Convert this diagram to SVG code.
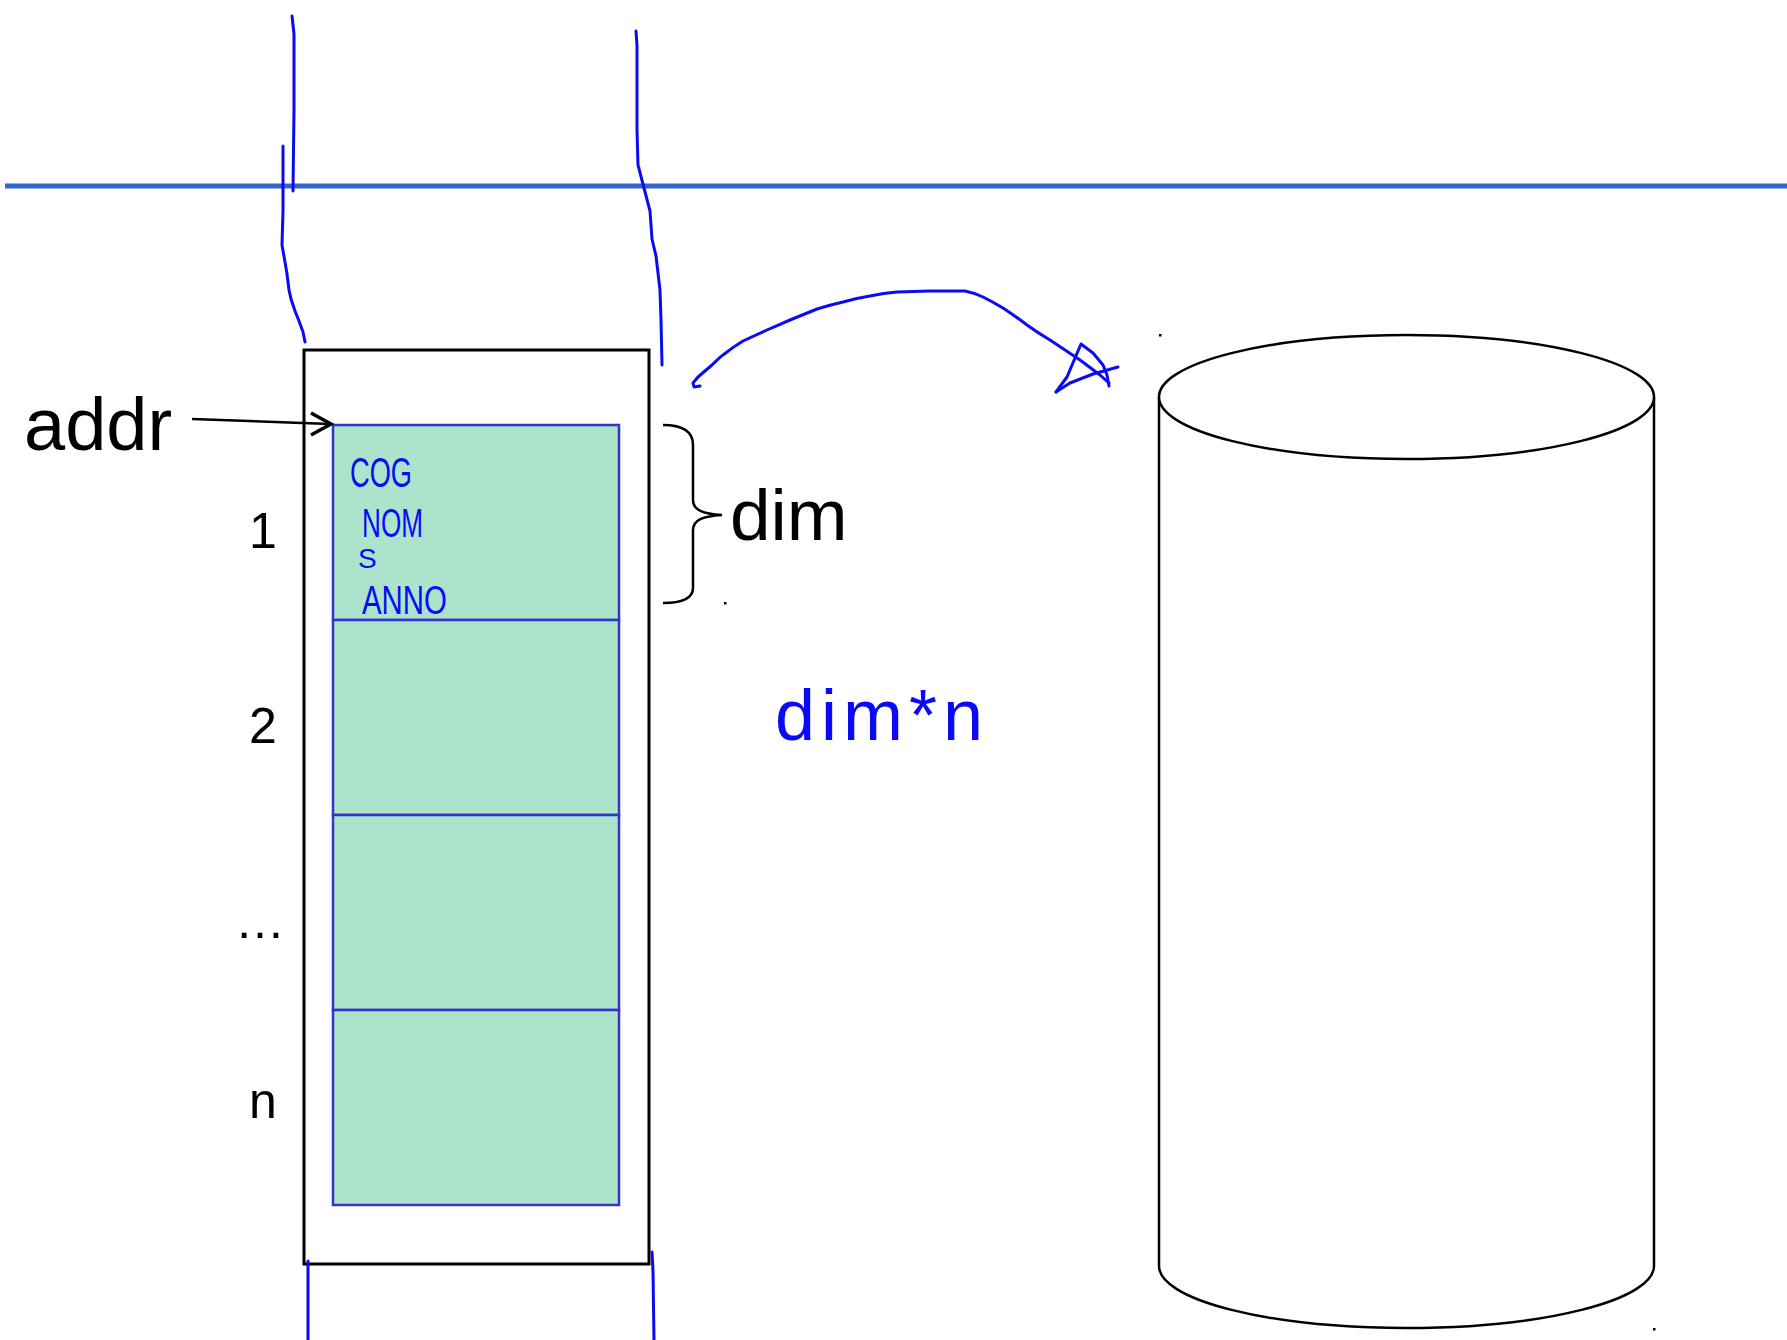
<svg xmlns="http://www.w3.org/2000/svg" width="1787" height="1340" viewBox="0 0 1787 1340">
<style>
.lbl{font-family:"Liberation Sans",Arial,sans-serif;fill:#000}
.ink{fill:none;stroke:#0a0af5;stroke-width:3;stroke-linecap:round;stroke-linejoin:round}
.hw{font-family:"Liberation Sans",Arial,sans-serif;fill:#0a0af5}
.cell{fill:#abe3cb;stroke:#3434cc;stroke-width:2.5}
.cyl{fill:#fff;stroke:#000;stroke-width:2.5}
</style>
<rect width="1787" height="1340" fill="#fff"/>

<g id="separator">
<line x1="5" y1="186" x2="1787" y2="186" stroke="#3366cc" stroke-width="5"/>
</g>

<g id="memory-block">
<rect x="304" y="350" width="345" height="914" fill="#fff" stroke="#000" stroke-width="3"/>
<g id="cell-1"><rect class="cell" x="333" y="425" width="286" height="195"/></g>
<g id="cell-2"><rect class="cell" x="333" y="620" width="286" height="195"/></g>
<g id="cell-3"><rect class="cell" x="333" y="815" width="286" height="195"/></g>
<g id="cell-n"><rect class="cell" x="333" y="1010" width="286" height="195"/></g>
</g>

<g id="index-labels">
<text class="lbl" x="263" y="548" font-size="50" text-anchor="middle">1</text>
<text class="lbl" x="263" y="743" font-size="50" text-anchor="middle">2</text>
<text class="lbl" x="260" y="938" font-size="50" text-anchor="middle">…</text>
<text class="lbl" x="263" y="1118" font-size="50" text-anchor="middle">n</text>
</g>

<g id="addr-label">
<text class="lbl" x="24" y="450" font-size="74">addr</text>
</g>

<g id="dim-brace">
<path d="M663 425 C683 425 693 432 693 445 L693 500 C693 510 703 514 722 515 C703 516 693 520 693 530 L693 588 C693 598 683 603 663 603" fill="none" stroke="#000" stroke-width="2.5"/>
<text class="lbl" x="730" y="540" font-size="73">dim</text>
<rect x="724" y="602" width="2.5" height="2.5" fill="#000"/>
</g>

<g id="cylinder">
<path class="cyl" d="M1159 397 L1159 1266 A247.5 62 0 0 0 1654 1266 L1654 397"/>
<ellipse class="cyl" cx="1406.5" cy="397" rx="247.5" ry="62"/>
<rect x="1159" y="334" width="2.5" height="2.5" fill="#000"/>
<rect x="1653" y="1328" width="2.5" height="2.5" fill="#000"/>
</g>

<g id="connectors">
<line x1="192" y1="419" x2="330" y2="424" stroke="#000" stroke-width="2.5"/>
<polyline points="311,413 331,424 311,435" fill="none" stroke="#000" stroke-width="3.5"/>
<path class="ink" d="M700 386 L694 387 L693 383 L698 377 L712 365 Q720 357 723 355 Q733 347 743 341 L767 330 L790 320 L817 309 Q830 305 843 302 Q857 298 870 296 Q884 293 897 292 L930 291 L965 291 Q975 293 983 297 Q993 302 1003 308 Q1015 316 1027 325 Q1038 333 1050 340 L1080 360 L1100 375 L1109 383"/>
<path class="ink" d="M1056 392 L1067 377 L1075 358 L1081 344 L1093 353 L1103 365 L1107 375 L1109 386"/>
<path class="ink" d="M1056 392 L1070 383 L1093 374 L1118 367"/>
</g>

<g id="annotations">
<path class="ink" d="M292 16 L294 34 L294 110 L293 191"/>
<path class="ink" d="M283 146 L283 211 L282 245 L285 262 L287 274 L289 290 L291 299 L295 311 L299 321 L303 332 L305 342"/>
<path class="ink" d="M636 31 L637 46 L637 130 L638 165 L644 188 L650 211 L652 239 L656 256 L660 290 L661 320 L662 365"/>
<path class="ink" d="M308 1261 L308 1340"/>
<path class="ink" d="M652 1252 L653 1271 L654 1340"/>
<text class="hw" x="350" y="487" font-size="42" textLength="62" lengthAdjust="spacingAndGlyphs">COG</text>
<text class="hw" x="362" y="537" font-size="40" textLength="61" lengthAdjust="spacingAndGlyphs">NOM</text>
<text class="hw" x="358" y="568" font-size="28">S</text>
<text class="hw" x="362" y="614" font-size="40" textLength="85" lengthAdjust="spacingAndGlyphs">ANNO</text>
<text class="hw" x="775" y="740" font-size="72" textLength="208" lengthAdjust="spacing">dim*n</text>
</g>
</svg>
